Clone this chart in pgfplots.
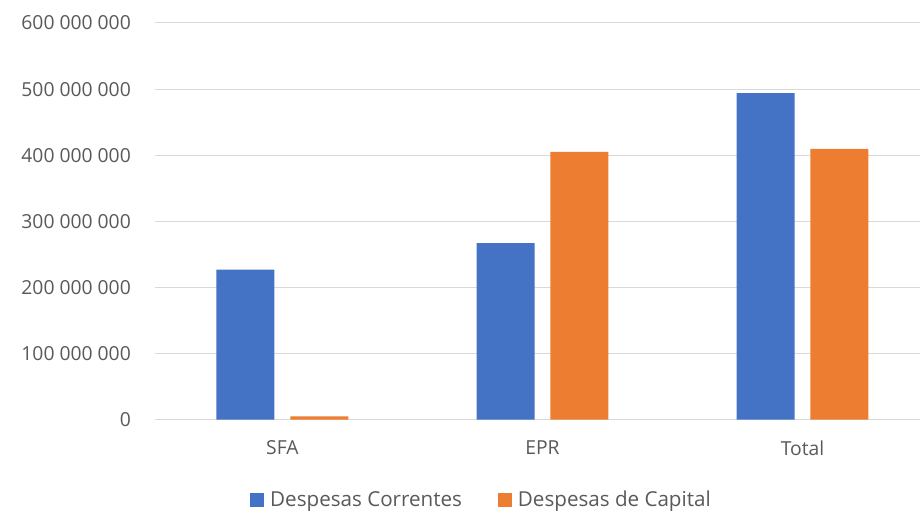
\documentclass[border=0pt]{standalone}
\usepackage{pgfplots}
\pgfplotsset{compat=1.18}
\usepackage{fontspec}
\setmainfont{Open Sans}
\definecolor{barblue}{HTML}{4472C4}
\definecolor{barorange}{HTML}{ED7D31}
\definecolor{txt}{HTML}{595959}
\definecolor{gridc}{HTML}{D9D9D9}

\begin{document}
\begin{tikzpicture}[x=1pt,y=1pt]
\path[use as bounding box] (0,0) rectangle (920,511);
\begin{axis}[
  at={(155pt,91.3pt)}, anchor=south west,
  width=765pt, height=396.7pt, scale only axis,
  xmin=-0.49, xmax=2.452, ymin=0, ymax=600000000,
  scaled y ticks=false,
  axis line style={draw=none},
  ymajorgrids, grid style={gridc, line width=1pt},
  major tick length=0pt,
  ytick={0,100000000,200000000,300000000,400000000,500000000,600000000},
  yticklabels={0,100 000 000,200 000 000,300 000 000,400 000 000,500 000 000,600 000 000},
  xtick={0,1,2}, xticklabels={SFA,EPR,Total},
  tick label style={font=\fontsize{19.3}{22}\selectfont, text=txt},
  yticklabel style={anchor=east, inner sep=0pt, xshift=-24pt},
  xticklabel style={anchor=north, inner sep=0pt, yshift=-21pt},
  ybar, bar width=0.223,
  legend style={at={(axis description cs:0.4268,-0.202)}, anchor=center,
    legend columns=2, draw=none, fill=none,
    font=\fontsize{20.6}{24}\selectfont, text=txt,
    /tikz/every odd column/.append style={column sep=4pt},
    /tikz/every even column/.append style={column sep=34pt}},
  legend image code/.code={\fill[#1] (0pt,-7pt) rectangle (14pt,7pt);},
]
\addplot[fill=barblue, draw=none, bar shift=-0.142]
  coordinates {(0,227000000) (1,267000000) (2,494000000)};
\addlegendentry{Despesas Correntes}
\addplot[fill=barorange, draw=none, bar shift=0.142]
  coordinates {(0,5000000) (1,405000000) (2,409500000)};
\addlegendentry{Despesas de Capital}
\end{axis}
\end{tikzpicture}
\end{document}
